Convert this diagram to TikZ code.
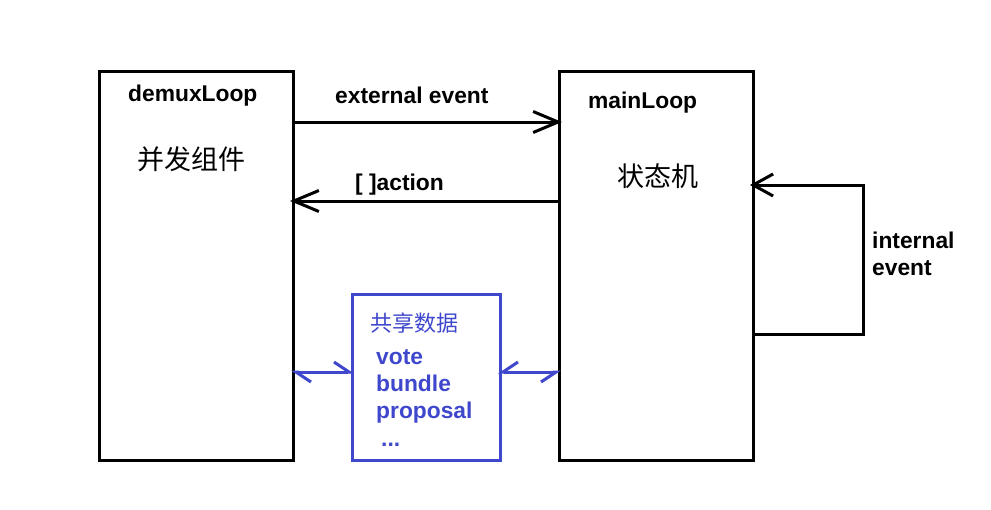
\documentclass[tikz,border=0pt]{standalone}
\usepackage{fontspec}
\setmainfont{Liberation Sans}
\newfontfamily\cjk{Noto Sans CJK SC}
\usetikzlibrary{arrows.meta}
\definecolor{indigo}{RGB}{63,72,204}
\begin{document}
\begin{tikzpicture}[x=1pt,y=-1pt,
  loopbox/.style={draw=black,line width=3pt,minimum width=194pt,minimum height=389pt,anchor=north west,inner sep=0pt,outer sep=0pt},
  sharebox/.style={draw=indigo,line width=3pt,minimum width=148pt,minimum height=166pt,anchor=north west,inner sep=0pt,outer sep=0pt},
  lbl/.style={font=\fontsize{22.8}{25}\selectfont\bfseries,anchor=base west,inner sep=0pt},
  cjklbl/.style={font=\fontsize{27}{30}\selectfont\cjk,anchor=base west,inner sep=0pt},
  blbl/.style={lbl,text=indigo},
  conn/.style={line width=3pt,shorten >=-3pt,-{Straight Barb[length=25pt,width=21pt,line width=3pt]}},
  bconn/.style={line width=3pt,draw=indigo,shorten >=-2pt,shorten <=-2pt}
]
\useasboundingbox (0,0) rectangle (991,509);
\node[loopbox] (demux) at (99,71) {};
\node[loopbox] (main) at (559,71) {};
\node[sharebox] (share) at (352,294) {};

\node[lbl] (t1) at (128,101) {demuxLoop};
\node[cjklbl] (t2) at (137,169) {并发组件};
\node[lbl] (t3) at (588,108) {mainLoop};
\node[cjklbl] (t4) at (617,186) {状态机};

\node[lbl] (t5) at (335,103) {external event};
\node[lbl] (t6) at (355,190) {[ ]action};
\node[lbl] (t7) at (872,248) {internal};
\node[lbl] (t8) at (872,275) {event};

\node[font=\fontsize{22}{24}\selectfont\cjk,text=indigo,anchor=base west,inner sep=0pt] (t9) at (370,331) {共享数据};
\node[blbl] (t10) at (376,364) {vote};
\node[blbl] (t11) at (376,391) {bundle};
\node[blbl] (t12) at (376,418) {proposal};
\node[blbl] (t13) at (381,446) {...};

\coordinate (ee) at (0,122);
\coordinate (ac) at (0,201);
\coordinate (ia) at (0,185);
\coordinate (ib) at (0,334);
\coordinate (ir) at (863,0);
\coordinate (bl) at (0,372);

\draw[conn] (demux.east |- ee) -- (main.west |- ee);
\draw[conn] (main.west |- ac) -- (demux.east |- ac);
\draw[line width=3pt,shorten >=-3pt,-{Straight Barb[length=20pt,width=22pt,line width=3pt]}]
  (main.east |- ib) -- (ir |- ib) -- (ir |- ia) -- (main.east |- ia);

\draw[bconn,{Straight Barb[left,length=15pt,width=20pt,line width=3pt]}-{Straight Barb[left,length=15pt,width=20pt,line width=3pt]}]
  (share.west |- bl) -- (demux.east |- bl);
\draw[bconn,{Straight Barb[right,length=15pt,width=20pt,line width=3pt]}-{Straight Barb[right,length=15pt,width=20pt,line width=3pt]}]
  (share.east |- bl) -- (main.west |- bl);
\end{tikzpicture}
\end{document}
